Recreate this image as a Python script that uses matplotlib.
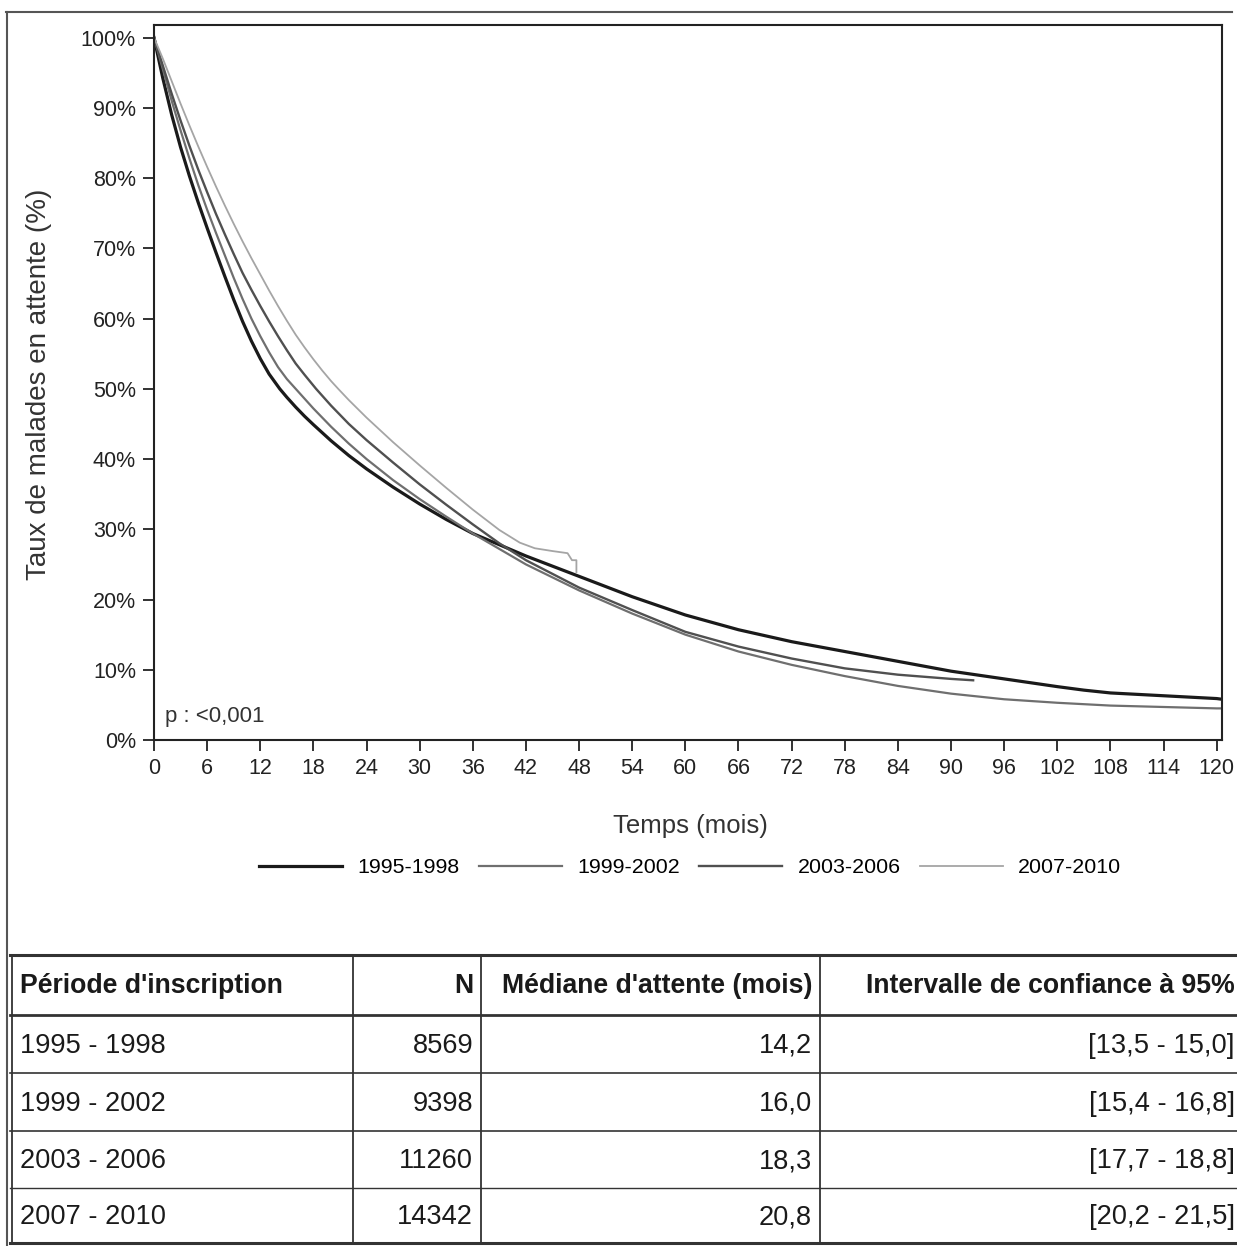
import matplotlib
matplotlib.use("Agg")
import matplotlib.pyplot as plt
from matplotlib.lines import Line2D

plt.rcParams['font.family'] = ['Liberation Sans', 'DejaVu Sans']

# survival curves (months, % still waiting)
t_9598 = [0, 1, 2, 3, 4, 5, 6, 7, 8, 9, 10, 11, 12, 13, 14.2, 15, 16, 17, 18, 20, 22, 24, 27, 30, 33, 36,
          42, 48, 54, 60, 66, 72, 78, 84, 90, 96, 102, 105, 108, 114, 120, 120.6]
s_9598 = [100, 94.2, 89, 84.4, 80.3, 76.5, 72.9, 69.4, 66.0, 62.7, 59.6, 56.8, 54.3, 52.1, 50.0, 48.8,
          47.4, 46.1, 44.9, 42.6, 40.5, 38.6, 36.0, 33.6, 31.4, 29.4,
          26.2, 23.3, 20.4, 17.8, 15.7, 14.0, 12.6, 11.2, 9.8, 8.7, 7.6, 7.1, 6.7, 6.3, 5.9, 5.8]

t_9902 = [0, 1, 2, 3, 4, 5, 6, 7, 8, 9, 10, 11, 12, 13, 14, 15, 16, 18, 20, 22, 24, 27, 30, 33, 36,
          42, 48, 54, 60, 66, 72, 78, 84, 90, 96, 102, 108, 114, 120, 120.6]
s_9902 = [100, 95.5, 91, 86.8, 82.8, 79, 75.5, 72.2, 69, 65.8, 62.8, 60, 57.5, 55.2, 53.1, 51.4, 50.0,
          47.2, 44.6, 42.2, 40.0, 37.0, 34.3, 31.8, 29.4,
          25.0, 21.3, 18.0, 15.0, 12.6, 10.7, 9.1, 7.7, 6.6, 5.8, 5.3, 4.9, 4.7, 4.5, 4.5]

t_0306 = [0, 1, 2, 3, 4, 5, 6, 7, 8, 9, 10, 11, 12, 13, 14, 15, 16, 17, 18.3, 20, 22, 24, 27, 30, 33, 36,
          39, 42, 48, 54, 60, 66, 72, 78, 84, 90, 92.5]
s_0306 = [100, 96, 92, 88.2, 84.6, 81.2, 78, 74.9, 72, 69.2, 66.5, 64.1, 61.8, 59.6, 57.5, 55.5, 53.6, 52,
          50, 47.6, 45.0, 42.7, 39.5, 36.4, 33.5, 30.7,
          28.0, 25.6, 21.7, 18.5, 15.4, 13.3, 11.6, 10.2, 9.3, 8.7, 8.5]

t_0710 = [0, 1, 2, 3, 4, 5, 6, 7, 8, 9, 10, 11, 12, 13, 14, 15, 16, 17, 18, 19, 20, 20.8, 22, 24, 27,
          30, 33, 36, 39, 41.3, 43, 45, 46.7, 47.2, 47.7, 47.7]
s_0710 = [100, 97, 93.8, 90.6, 87.5, 84.5, 81.6, 78.8, 76.1, 73.5, 71, 68.6, 66.3, 64.0, 61.8, 59.7, 57.7,
          55.9, 54.2, 52.6, 51.1, 50.0, 48.4, 45.9, 42.4,
          39.1, 35.9, 32.8, 29.9, 28.1, 27.3, 26.9, 26.6, 25.6, 25.6, 23.9]

periods = ["1995-1998", "1999-2002", "2003-2006", "2007-2010"]
colors = ["#1a1a1a", "#6f6f6f", "#505050", "#a5a5a5"]
widths = [2.3, 1.6, 1.7, 1.3]

x_ticks = list(range(0, 121, 6))
y_ticks = list(range(0, 101, 10))

# table under the chart
tab_header = ["Période d'inscription", "N", "Médiane d'attente (mois)", "Intervalle de confiance à 95%"]
tab_period = ["1995 - 1998", "1999 - 2002", "2003 - 2006", "2007 - 2010"]
tab_n = ["8569", "9398", "11260", "14342"]
tab_median = ["14,2", "16,0", "18,3", "20,8"]
tab_ci = ["[13,5 - 15,0]", "[15,4 - 16,8]", "[17,7 - 18,8]", "[20,2 - 21,5]"]

W, H = 1237, 1246
fig = plt.figure(figsize=(W / 100, H / 100), dpi=100)

ax = fig.add_axes([154 / W, 1 - 740 / H, (1222 - 154) / W, (740 - 25) / H])
curves = [(t_9598, s_9598), (t_9902, s_9902), (t_0306, s_0306), (t_0710, s_0710)]
for (t, s), lab, c, lw in zip(curves, periods, colors, widths):
    ax.plot(t, s, color=c, lw=lw, label=lab)

ax.set_xlim(0, 120.6)
ax.set_ylim(0, 101.8)
ax.set_xticks(x_ticks)
ax.set_yticks(y_ticks)
ax.set_yticklabels([f"{v}%" for v in y_ticks])
ax.tick_params(axis='both', direction='out', length=8, width=1.3, labelsize=15.5,
               colors='#222222', pad=5)
for sp in ax.spines.values():
    sp.set_linewidth(1.5)
    sp.set_color('#222222')

ax.set_ylabel("Taux de malades en attente (%)", fontsize=20, color='#333333')
ax.yaxis.set_label_coords(-0.0955, 0.497)
ax.set_xlabel("Temps (mois)", fontsize=18.5, color='#333333')
ax.xaxis.set_label_coords(0.502, -0.103)
ax.text(0.01, 0.025, "p : <0,001", transform=ax.transAxes, fontsize=16, color='#333333')

ax.legend(loc='center', bbox_to_anchor=(0.502, -0.179), ncol=4, frameon=False,
          fontsize=15.4, handlelength=3.9, handletextpad=0.7, columnspacing=0.9)

# table drawn in its own axes, pixel-like coordinates
tx = fig.add_axes([0, 0, 1, 1 - 950 / H])
tx.set_xlim(0, W)
tx.set_ylim(H, 950)
tx.axis('off')
row_lines = [955, 1015, 1073, 1131, 1188, 1243]
row_lw = [2.2, 2.0, 1.2, 1.2, 1.0, 2.2]
for yl, lw in zip(row_lines, row_lw):
    tx.plot([10, W], [yl, yl], color='#333333', lw=lw)
for xl in [12, 353, 481, 820]:
    tx.plot([xl, xl], [955, 1243], color='#333333', lw=1.3)

hdr_x = [20, 473, 812, 1235]
hdr_ha = ['left', 'right', 'right', 'right']
for txt, xx, ha in zip(tab_header, hdr_x, hdr_ha):
    tx.text(xx, 986, txt, ha=ha, va='center', fontsize=19.2, fontweight='bold', color='#1a1a1a')
centers = [1046, 1104, 1161, 1217]
for i, yc in enumerate(centers):
    tx.text(20, yc, tab_period[i], ha='left', va='center', fontsize=19.6, color='#1a1a1a')
    tx.text(473, yc, tab_n[i], ha='right', va='center', fontsize=19.6, color='#1a1a1a')
    tx.text(812, yc, tab_median[i], ha='right', va='center', fontsize=19.6, color='#1a1a1a')
    tx.text(1235, yc, tab_ci[i], ha='right', va='center', fontsize=19.6, color='#1a1a1a')

# scan border, top and left
fig.add_artist(Line2D([6 / W, 1232 / W], [1 - 12 / H, 1 - 12 / H], color='#555555', lw=1.5))
fig.add_artist(Line2D([7 / W, 7 / W], [0, 1 - 12 / H], color='#555555', lw=1.5))

fig.savefig("out.png", dpi=100)
